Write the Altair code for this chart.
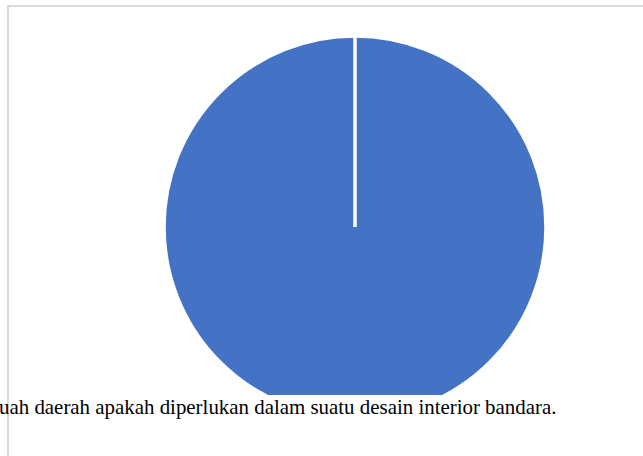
import altair as alt
import pandas as pd

categories = ["Ya", "Tidak"]
values = [100, 0]
caption = "uah daerah apakah diperlukan dalam suatu desain interior bandara."

df = pd.DataFrame({"kategori": categories, "nilai": values, "urut": [0, 1]})

border = alt.Chart(pd.DataFrame({"a": [0]})).mark_rect(
    fill=None, stroke="#d9d9d9", strokeWidth=2, clip=False
).encode(x=alt.value(8), y=alt.value(6), x2=alt.value(720), y2=alt.value(520))

pie = alt.Chart(df).mark_arc(
    outerRadius=191, stroke="white", strokeWidth=3.5, strokeJoin="miter"
).encode(
    theta=alt.Theta("nilai:Q", stack=True, scale=alt.Scale(domain=[0, 100])),
    color=alt.Color("kategori:N", scale=alt.Scale(domain=categories, range=["#4472C4", "#4472C4"]), legend=None),
    order=alt.Order("urut:Q"),
    x=alt.value(355),
    y=alt.value(227),
)

cover = alt.Chart(pd.DataFrame({"a": [0]})).mark_rect(fill="white").encode(
    x=alt.value(10), y=alt.value(395), x2=alt.value(643), y2=alt.value(456)
)

text = alt.Chart(pd.DataFrame({"t": [caption]})).mark_text(
    font="Times New Roman, Liberation Serif, DejaVu Serif, serif", fontSize=20.9, align="left",
    baseline="alphabetic", color="black"
).encode(text="t:N", x=alt.value(-1), y=alt.value(414))

chart = alt.layer(border, pie, cover, text).properties(
    width=643, height=456, autosize=alt.AutoSizeParams(type="none"), padding=0
).configure_view(stroke=None)

chart.save("out.html", embed_options={"renderer": "svg", "actions": False})
